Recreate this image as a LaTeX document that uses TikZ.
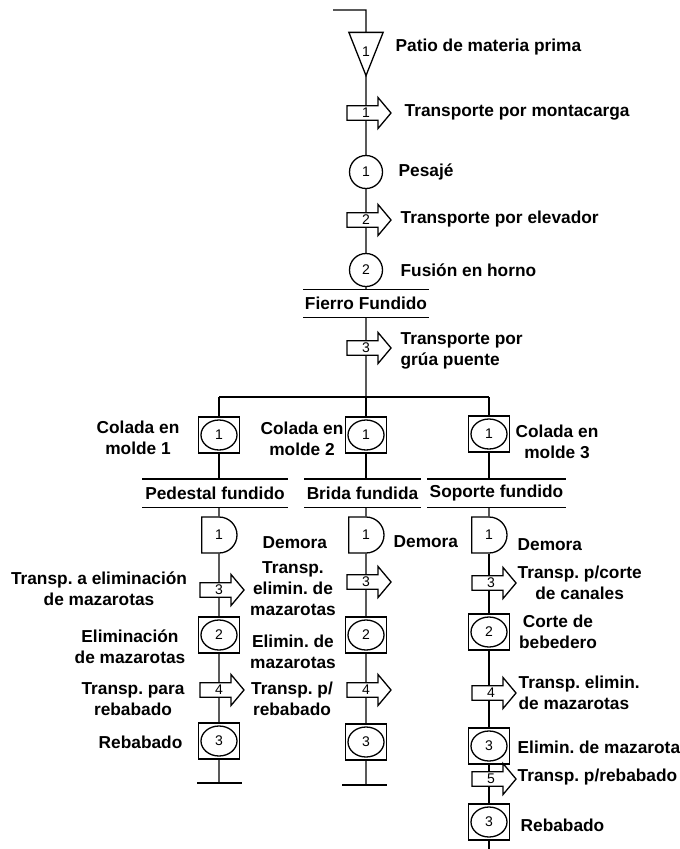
\documentclass[tikz,border=0pt]{standalone}
\usepackage{fontspec}
\setmainfont{Liberation Sans}
\frenchspacing
\usetikzlibrary{shapes.geometric, shapes.arrows, shapes.misc, positioning}

\begin{document}
\begin{tikzpicture}[
    x=1pt, y=-1pt,
    line width=1.3pt,
    num/.style={font=\fontsize{14}{14}\selectfont},
    storage/.style={rectangle, minimum width=33, minimum height=42, inner sep=0, num,
        append after command={\pgfextra{\draw (\tikzlastnode.north west) -- (\tikzlastnode.north east) -- (\tikzlastnode.south) -- cycle;}}},
    transp/.style={single arrow, draw, fill=white, minimum height=44, minimum width=31, single arrow head extend=7.5, single arrow tip angle=100, inner sep=1, num},
    oper/.style={circle, draw, minimum size=33, inner sep=0, num},
    combo/.style={rectangle, draw, minimum width=41, minimum height=36, inner sep=0, num,
        path picture={\draw (path picture bounding box.center) ellipse (18pt and 15pt);}},
    delay/.style={rounded rectangle, rounded rectangle left arc=none, draw, minimum width=33, minimum height=36, inner sep=0, num},
    prod/.style={font=\fontsize{17.3}{21}\selectfont\bfseries, minimum height=27, inner sep=0},
    lab/.style={font=\fontsize{17.3}{21}\selectfont\bfseries, inner sep=0, align=center}
]
\useasboundingbox (0,0) rectangle (680,849);

% Main line
\coordinate (top0) at (333,10);
\coordinate (top1) at (366,10);
\node (alm1) [storage] at (366,54) {\raisebox{5pt}{1}};
\node (tr1) [transp] at (366,113) {1};
\node (op1) [oper] at (366,172) {1};
\node (tr2) [transp] at (366,220) {2};
\node (op2) [oper] at (366,270) {2};
\node (ff) [prod, minimum width=124] at (366,303.5) {Fierro Fundido};
\node (tr3) [transp] at (366,348) {3};
\coordinate (jm) at (366,397);
\coordinate (jl) at (219,397);
\coordinate (jr) at (489,397);

% Column 1
\node (c1op1) [combo] at (219,435) {1};
\node (pf) [prod, minimum width=144] at (215,493) {Pedestal fundido};
\node (c1d) [delay] at (219,535) {1};
\node (c1tr3) [transp] at (219,590) {3};
\node (c1op2) [combo] at (219,635) {2};
\node (c1tr4) [transp] at (219,690) {4};
\node (c1op3) [combo] at (219,741) {3};
\coordinate (c1end) at (219,783);

% Column 2
\node (c2op1) [combo] at (366,435) {1};
\node (bf) [prod, minimum width=115] at (362.5,493) {Brida fundida};
\node (c2d) [delay] at (366,535) {1};
\node (c2tr3) [transp] at (366,582) {3};
\node (c2op2) [combo] at (366,635) {2};
\node (c2tr4) [transp] at (366,690) {4};
\node (c2op3) [combo] at (366,742) {3};
\coordinate (c2end) at (366,785);

% Column 3
\node (c3op1) [combo] at (489,434) {1};
\node (sf) [prod, minimum width=137] at (496.5,493) {Soporte fundido};
\node (c3d) [delay] at (489,535) {1};
\node (c3tr3) [transp] at (491,583) {3};
\node (c3op2) [combo] at (489,632) {2};
\node (c3tr4) [transp] at (491,693) {4};
\node (c3op3) [combo] at (489,746) {3};
\node (c3tr5) [transp] at (491,779) {5};
\node (c3op4) [combo] at (489,822) {3};
\coordinate (c3end) at (489,849);

% Labels
\node (l_alm1) [lab, anchor=west] at (395,47) {Patio de materia prima};
\node (l_tr1) [lab, anchor=west] at (404,112) {Transporte por montacarga};
\node (l_op1) [lab, anchor=west] at (398,172) {Pesajé};
\node (l_tr2) [lab, anchor=west] at (400,219) {Transporte por elevador};
\node (l_op2) [lab, anchor=west] at (400,270) {Fusión en horno};
\node (l_tr3) [lab, anchor=west, align=left] at (400,351) {Transporte por\\grúa puente};
\node (l_c1op1) [lab] at (138,438) {Colada en\\molde 1};
\node (l_c2op1) [lab] at (302,439) {Colada en\\molde 2};
\node (l_c3op1) [lab] at (557,442) {Colada en\\molde 3};
\node (l_c1d) [lab, anchor=west] at (262,543) {Demora};
\node (l_c2d) [lab, anchor=west] at (393,542) {Demora};
\node (l_c3d) [lab, anchor=west] at (517,545) {Demora};
\node (l_c1tr3) [lab] at (99,589) {Transp. a eliminación\\de mazarotas};
\node (l_c2tr3) [lab] at (293,589) {Transp.\\elimin. de\\mazarotas};
\node (l_c1op2) [lab] at (130,647) {Eliminación\\de mazarotas};
\node (l_c2op2) [lab] at (293,652) {Elimin. de\\mazarotas};
\node (l_c1tr4) [lab] at (133,699) {Transp. para\\rebabado};
\node (l_c2tr4) [lab] at (292,699) {Transp. p/\\rebabado};
\node (l_c1op3) [lab, anchor=east] at (183,742) {Rebabado};
\node (l_c3tr3) [lab, anchor=west] at (517,583) {Transp. p/corte\\de canales};
\node (l_c3op2) [lab] at (558,632) {Corte de\\bebedero};
\node (l_c3tr4) [lab, anchor=west, align=left] at (518,693) {Transp. elimin.\\de mazarotas};
\node (l_c3op3) [lab, anchor=west] at (517,747) {Elimin. de mazarota};
\node (l_c3tr5) [lab, anchor=west] at (517,777) {Transp. p/rebabado};
\node (l_c3op4) [lab, anchor=west] at (520,825) {Rebabado};

% Product lines
\foreach \p in {ff, pf, bf, sf}
    \draw (\p.north west) -- (\p.north east) (\p.south west) -- (\p.south east);

% Connectors
\draw (top0) -- (top1) -- (alm1) -- (tr1) -- (op1) -- (tr2) -- (op2) -- (ff) -- (tr3) -- (jm);
\draw (jl) -- (jr);
\draw (jl) -- (c1op1);
\draw (jm) -- (c2op1);
\draw (jr) -- (c3op1);
\foreach \c/\p in {c1/pf, c2/bf, c3/sf} {
    \draw (\c op1) -- (\c op1 |- \p.north);
    \draw (\c op1 |- \p.south) -- (\c d);
}
\draw (c1d) -- (c1tr3) -- (c1op2) -- (c1tr4) -- (c1op3) -- (c1end);
\draw (c2d) -- (c2tr3) -- (c2op2) -- (c2tr4) -- (c2op3) -- (c2end);
\draw (c3d) -- (c3d |- c3tr3.north) (c3d |- c3tr3.south) -- (c3op2) -- (c3op2 |- c3tr4.north)
      (c3op2 |- c3tr4.south) -- (c3op3) -- (c3op3 |- c3tr5.north) (c3op3 |- c3tr5.south) -- (c3op4) -- (c3end);
\draw ([xshift=-22pt]c1end) -- ([xshift=23pt]c1end);
\draw ([xshift=-24pt]c2end) -- ([xshift=21pt]c2end);

\end{tikzpicture}
\end{document}
